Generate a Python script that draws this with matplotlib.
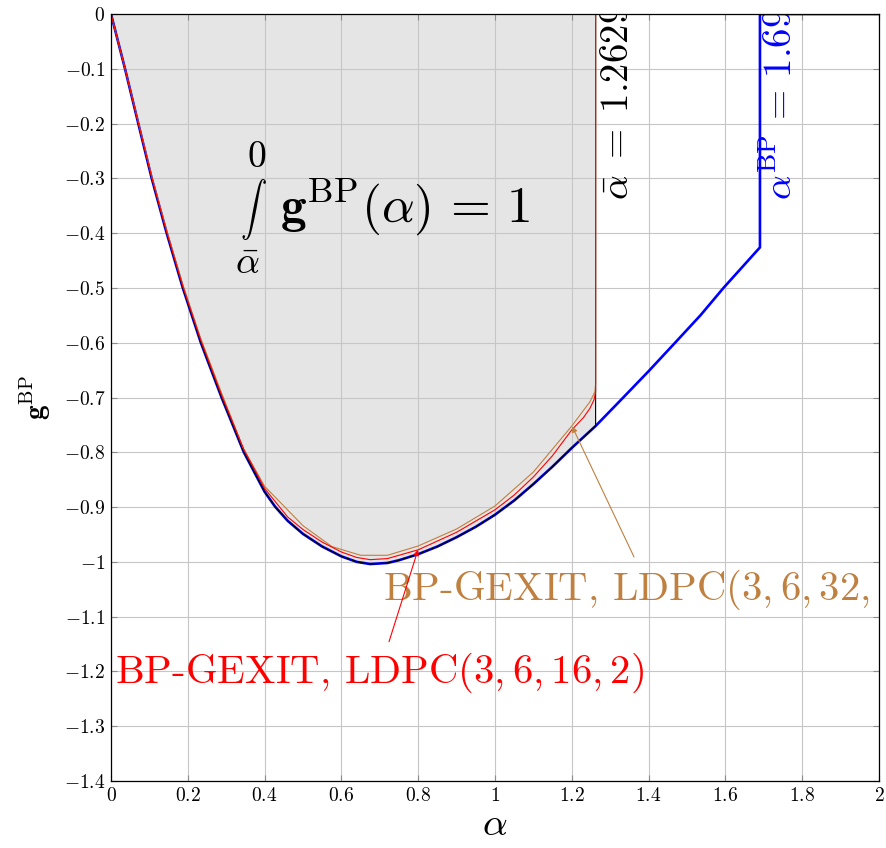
import matplotlib
matplotlib.use("Agg")
import matplotlib.pyplot as plt

plt.rcParams['mathtext.fontset'] = 'cm'
plt.rcParams['font.family'] = ['cmr10', 'DejaVu Serif']
plt.rcParams['axes.formatter.use_mathtext'] = True

# ---- data ----
# BP-GEXIT curve of the underlying ensemble (blue)
bp_alpha = [0.0, 0.0365, 0.0711, 0.106, 0.145, 0.187, 0.234, 0.288, 0.346, 0.4, 0.427,
            0.46, 0.5, 0.55, 0.6, 0.64, 0.675, 0.72, 0.75, 0.8, 0.85, 0.9, 0.95, 1.0,
            1.05, 1.1, 1.15, 1.2, 1.262,
            1.334, 1.4, 1.469, 1.535, 1.595, 1.69, 1.69, 2.0]
bp_g = [0.0, -0.1, -0.2, -0.3, -0.4, -0.5, -0.6, -0.7, -0.8, -0.872, -0.899,
        -0.925, -0.949, -0.972, -0.99, -1.0, -1.004, -1.002, -0.997, -0.986, -0.972, -0.955, -0.936, -0.914,
        -0.888, -0.858, -0.826, -0.792, -0.752,
        -0.7, -0.652, -0.6, -0.55, -0.5, -0.426, 0.0, 0.0]

# area-threshold construction (black)
abar_alpha = [0.0, 0.0365, 0.0711, 0.106, 0.145, 0.187, 0.234, 0.288, 0.346, 0.4, 0.427,
              0.46, 0.5, 0.55, 0.6, 0.64, 0.675, 0.72, 0.75, 0.8, 0.85, 0.9, 0.95, 1.0,
              1.05, 1.1, 1.15, 1.2, 1.262, 1.262]
abar_g = [0.0, -0.1, -0.2, -0.3, -0.4, -0.5, -0.6, -0.7, -0.8, -0.872, -0.899,
          -0.925, -0.949, -0.972, -0.99, -1.0, -1.004, -1.002, -0.997, -0.986, -0.972, -0.955, -0.936, -0.914,
          -0.888, -0.858, -0.826, -0.792, -0.752, 0.0]

# LDPC(3,6,16,2) (red)
l16_alpha = [0.0, 0.0365, 0.0711, 0.106, 0.145, 0.187, 0.234, 0.288, 0.346, 0.4, 0.46,
             0.5, 0.55, 0.6, 0.64, 0.675, 0.72, 0.8, 0.9, 1.0, 1.05, 1.1, 1.15, 1.2,
             1.23, 1.247, 1.258, 1.262, 1.262]
l16_g = [0.0, -0.099, -0.199, -0.298, -0.398, -0.497, -0.596, -0.696, -0.795, -0.866, -0.918,
         -0.941, -0.964, -0.982, -0.992, -0.996, -0.994, -0.978, -0.946, -0.905, -0.878, -0.845, -0.806, -0.759,
         -0.737, -0.72, -0.704, -0.69, 0.0]

# LDPC(3,6,32,...) (brown)
l32_alpha = [0.0, 0.036, 0.071, 0.106, 0.145, 0.187, 0.234, 0.288, 0.344, 0.4, 0.5,
             0.575, 0.65, 0.72, 0.8, 0.9, 1.0, 1.1, 1.2, 1.247, 1.26, 1.262, 1.262, 1.5]
l32_g = [0.0, -0.098, -0.197, -0.296, -0.395, -0.494, -0.593, -0.692, -0.792, -0.862, -0.934,
         -0.972, -0.988, -0.988, -0.971, -0.94, -0.898, -0.836, -0.752, -0.708, -0.69, -0.675, 0.0, 0.0]

xticks = [0, 0.2, 0.4, 0.6, 0.8, 1, 1.2, 1.4, 1.6, 1.8, 2]
xtick_labels = ['0', '0.2', '0.4', '0.6', '0.8', '1', '1.2', '1.4', '1.6', '1.8', '2']
yticks = [0, -0.1, -0.2, -0.3, -0.4, -0.5, -0.6, -0.7, -0.8, -0.9, -1.0, -1.1, -1.2, -1.3, -1.4]
ytick_labels = ['0', '-0.1', '-0.2', '-0.3', '-0.4', '-0.5', '-0.6', '-0.7', '-0.8', '-0.9',
                '-1', '-1.1', '-1.2', '-1.3', '-1.4']

BROWN = '#BF8040'

fig = plt.figure(figsize=(8.86, 8.48), dpi=100)
ax = fig.add_axes([111/886, 1-781/848, 768/886, 767/848])

ax.fill_between(abar_alpha, abar_g, 0, color='#e5e5e5', lw=0, zorder=1)

ax.plot(bp_alpha, bp_g, color='#0000ff', lw=1.9, zorder=3, solid_joinstyle='round')
ax.plot(abar_alpha, abar_g, color='black', lw=0.8, zorder=4)
ax.plot(l32_alpha, l32_g, color=BROWN, lw=0.8, zorder=5)
ax.plot(l16_alpha, l16_g, color='red', lw=0.8, zorder=6)

ax.set_xlim(0, 2)
ax.set_ylim(-1.4, 0)
ax.set_xticks(xticks, labels=['$%s$' % s for s in xtick_labels])
ax.set_yticks(yticks, labels=['$%s$' % s for s in ytick_labels])
ax.tick_params(direction='in', length=4.5, width=0.8, color='#8c8c8c',
               top=True, right=True, labelsize=14, pad=4)
ax.grid(True, color='#c6c6c6', lw=0.8)
for sp in ax.spines.values():
    sp.set_linewidth(0.9)
    sp.set_zorder(10)

ax.set_xlabel(r'$\alpha$', fontsize=28, labelpad=2)
ax.set_ylabel(r'$\mathbf{g}^{\mathrm{BP}}$', fontsize=21, labelpad=8)

# annotations
ax.text(1.273, -0.3395, r'$\bar{\alpha}\;=\;1.2629$', rotation=90, ha='left', va='bottom',
        fontsize=28, color='black', clip_on=True, zorder=7)
ax.text(1.695, -0.3395, r'$\alpha^{\mathrm{BP}}\,=\,1.6991$', rotation=90, ha='left', va='bottom',
        fontsize=28, color='#0000ff', clip_on=True, zorder=7)

ax.text(0.37, -0.356, r'$\int$', ha='center', va='center', fontsize=19, zorder=7)
ax.text(0.378, -0.261, r'$0$', ha='center', va='center', fontsize=27, zorder=7)
ax.text(0.354, -0.456, r'$\bar{\alpha}$', ha='center', va='center', fontsize=27, zorder=7)
ax.text(0.4401, -0.3796, r'$\mathbf{g}^{\mathrm{BP}}(\alpha)\,=\,1$', ha='left', va='baseline',
        fontsize=37, zorder=7)

ax.text(0.0104, -1.221, r'BP-GEXIT, LDPC$(3,6,16,2)$', ha='left', va='baseline',
        fontsize=29.3, color='red', zorder=7, clip_on=True)
ax.text(0.708, -1.0695, r'BP-GEXIT, LDPC$(3,6,32,2)$', ha='left', va='baseline',
        fontsize=29.3, color=BROWN, zorder=7, clip_on=True)

ax.annotate('', xy=(0.7995, -0.978), xytext=(0.724, -1.1457),
            arrowprops=dict(arrowstyle='-|>', color='red', lw=0.8, mutation_scale=8,
                            shrinkA=0, shrinkB=0), zorder=8)
ax.annotate('', xy=(1.201, -0.753), xytext=(1.362, -0.991),
            arrowprops=dict(arrowstyle='-|>', color=BROWN, lw=0.8, mutation_scale=8,
                            shrinkA=0, shrinkB=0), zorder=8)

fig.savefig('out.png', dpi=100)
